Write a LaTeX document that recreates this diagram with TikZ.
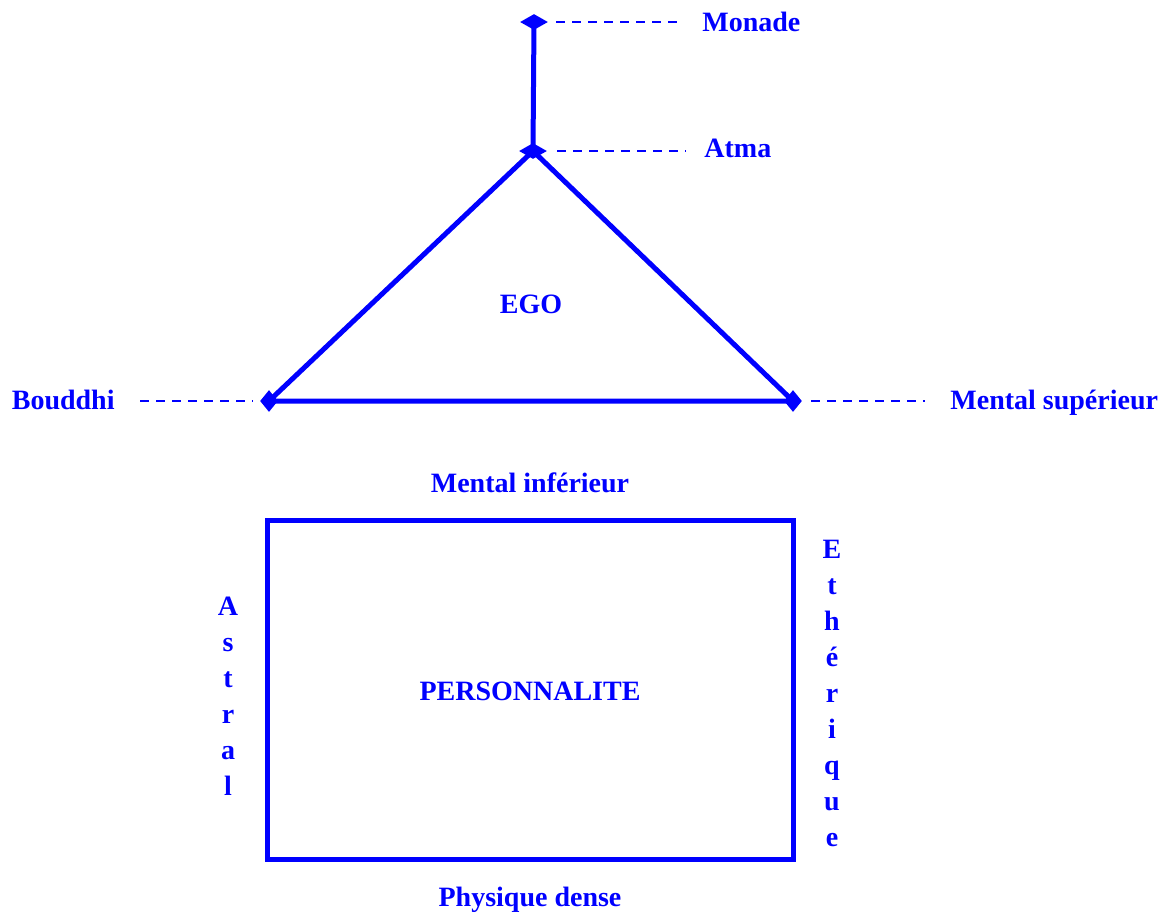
\documentclass[tikz,border=0pt]{standalone}
\usepackage{fontspec}
\setmainfont{Liberation Serif}
\usetikzlibrary{shapes.geometric}
\definecolor{egoblue}{RGB}{0,0,255}

\begin{document}
\begin{tikzpicture}[x=0.5pt, y=-0.5pt,
        lbl/.style={text=egoblue, inner sep=0pt, font=\fontsize{14}{18}\selectfont\bfseries},
        pt/.style={shape=diamond, fill=egoblue, inner sep=0pt, minimum width=14pt, minimum height=8pt},
        ptb/.style={shape=diamond, fill=egoblue, inner sep=0pt, minimum width=9pt, minimum height=11pt},
        thickline/.style={draw=egoblue, line width=2.5pt},
        guide/.style={draw=egoblue, line width=1pt, dash pattern=on 4.5pt off 3.5pt}]
        \useasboundingbox (0,0) rectangle (1169,912);
        % points of the ego
        \node[pt] (monade) at (534,22) {};
        \node[pt] (atma) at (533,151) {};
        \node[ptb] (bouddhi) at (269,401) {};
        \node[ptb] (supmental) at (793,401) {};
        \draw[thickline] (monade.center) -- (atma.center);
        \draw[thickline, line join=miter] (atma.center) -- (bouddhi.center) -- (supmental.center) -- cycle;
        % labels
        \node[lbl, anchor=base west] (monadetxt) at (702,31) {Monade};
        \node[lbl, anchor=base west] (atmatxt) at (704,157) {Atma};
        \node[lbl, anchor=base east] (bouddhitxt) at (115,409) {Bouddhi};
        \node[lbl, anchor=base west] (supmentaltxt) at (950,409) {Mental supérieur};
        \draw[guide, shorten <=4pt, shorten >=9pt] (monade) -- (monade -| monadetxt.west);
        \draw[guide, shorten <=5pt, shorten >=9pt] (atma) -- (atma -| atmatxt.west);
        \draw[guide, shorten <=12.5pt, shorten >=3.5pt] (bouddhi -| bouddhitxt.east) -- (bouddhi);
        \draw[guide, shorten <=4.5pt, shorten >=12.5pt] (supmental) -- (supmental -| supmentaltxt.west);
        \node[lbl, anchor=base] (ego) at (531,313) {EGO};
        % personnalite
        \node[lbl, anchor=base] (infmental) at (530,492) {Mental inférieur};
        \node[thickline, minimum width=263pt, minimum height=169.5pt] (perso) at (530,689.5) {};
        \node[lbl, anchor=base] (persotxt) at (530,700) {PERSONNALITE};
        \node[lbl, align=center] (astral) at (228,696) {A\\s\\t\\r\\a\\l};
        \node[lbl, align=center] (etherique) at (832,693) {E\\t\\h\\é\\r\\i\\q\\u\\e};
        \node[lbl, anchor=base] (physique) at (530,906) {Physique dense};
    \end{tikzpicture}
\end{document}
